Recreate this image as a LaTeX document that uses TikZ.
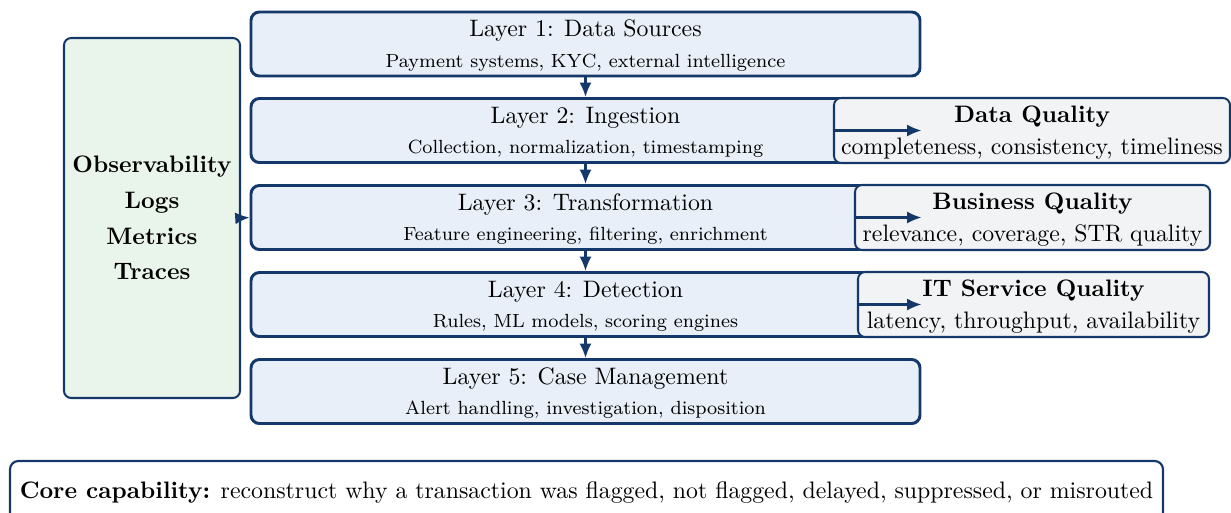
\documentclass[tikz,border=0pt]{standalone}
\usetikzlibrary{arrows.meta}
\definecolor{navy}{HTML}{15386A}
\definecolor{layerfill}{HTML}{E8EFF8}
\definecolor{obsfill}{HTML}{E9F4EA}
\definecolor{qfill}{HTML}{F2F3F5}
\newcommand{\topstrut}[1]{\rule{0pt}{#1}}
\begin{document}
\begin{tikzpicture}[x=0.42pt,y=-0.42pt,
  layerbox/.style={draw=navy,fill=layerfill,line width=1.25pt,rounded corners=3.5pt,
    minimum width=669*0.42pt,minimum height=64*0.42pt,inner sep=0pt,align=center},
  qbox/.style={draw=navy,fill=qfill,line width=0.85pt,rounded corners=3pt,
    minimum height=65*0.42pt,inner sep=0pt,align=center},
  obsbox/.style={draw=navy,fill=obsfill,line width=0.85pt,rounded corners=3pt,
    minimum width=176*0.42pt,minimum height=360*0.42pt,inner sep=0pt,align=center,font=\bfseries},
  corebox/.style={draw=navy,fill=white,line width=0.9pt,rounded corners=3.5pt,
    minimum width=1153*0.42pt,minimum height=64*0.42pt,inner sep=0pt},
  arr/.style={draw=navy,line width=0.85pt,-{Latex[length=6pt,width=5pt]}}]
\useasboundingbox (0,0) rectangle (1231,512);
\node[layerbox] (L1) at (585.5,44) {\topstrut{8.2pt}Layer 1: Data Sources\\[0.8pt]{\footnotesize Payment systems, KYC, external intelligence}};
\node[layerbox] (L2) at (585.5,130.5) {\topstrut{8.2pt}Layer 2: Ingestion\\[0.8pt]{\footnotesize Collection, normalization, timestamping}};
\node[layerbox] (L3) at (585.5,217.5) {\topstrut{8.2pt}Layer 3: Transformation\\[0.8pt]{\footnotesize Feature engineering, filtering, enrichment}};
\node[layerbox] (L4) at (585.5,304.5) {\topstrut{8.2pt}Layer 4: Detection\\[0.8pt]{\footnotesize Rules, ML models, scoring engines}};
\node[layerbox] (L5) at (585.5,391.5) {\topstrut{8.2pt}Layer 5: Case Management\\[0.8pt]{\footnotesize Alert handling, investigation, disposition}};
\draw[arr] (L1) -- (L2);
\draw[arr] (L2) -- (L3);
\draw[arr] (L3) -- (L4);
\draw[arr] (L4) -- (L5);
\node[qbox,minimum width=396*0.42pt] (DQ) at (1032,130.5) {\topstrut{8.6pt}\textbf{Data Quality}\\[1.4pt]completeness, consistency, timeliness};
\node[qbox,minimum width=355*0.42pt] (BQ) at (1032.5,217.5) {\topstrut{8.6pt}\textbf{Business Quality}\\[1.4pt]relevance, coverage, STR quality};
\node[qbox,minimum width=351*0.42pt] (IT) at (1033.5,304.5) {\topstrut{8.6pt}\textbf{IT Service Quality}\\[1.4pt]latency, throughput, availability};
\draw[arr] (DQ.west) -- (L2.east);
\draw[arr] (BQ.west) -- (L3.east);
\draw[arr] (IT.west) -- (L4.east);
\node[obsbox] (OBS) at (152,218) {Observability\\[3pt]Logs\\[3pt]Metrics\\[3pt]Traces};
\draw[arr] (OBS.east) -- (L3.west);
\node[corebox] (CORE) at (586.5,493) {\textbf{Core capability:} reconstruct why a transaction was flagged, not flagged, delayed, suppressed, or misrouted};
\end{tikzpicture}
\end{document}
